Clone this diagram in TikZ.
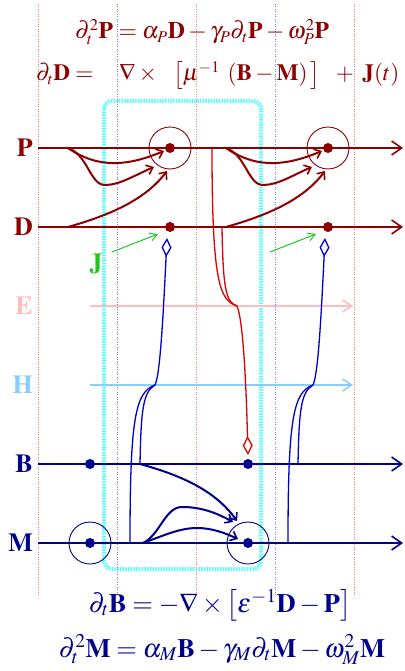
\documentclass[tikz,border=0pt]{standalone}
\usepackage{mathptmx}
\usetikzlibrary{arrows.meta}
\definecolor{dred}{RGB}{140,0,0}
\definecolor{dblue}{RGB}{0,0,140}
\definecolor{cred}{RGB}{220,0,0}
\definecolor{cblue}{RGB}{0,0,205}
\definecolor{pinkE}{RGB}{255,190,190}
\definecolor{skyH}{RGB}{135,206,250}
\definecolor{jgreen}{RGB}{30,200,30}
\definecolor{vred}{RGB}{255,120,120}
\definecolor{vblue}{RGB}{120,120,255}
\definecolor{cyanbox}{RGB}{80,255,255}
\newcommand{\timesbold}{\fontencoding{OT1}\fontfamily{ptm}\fontseries{b}\fontshape{n}\fontsize{26}{30}\selectfont}
\begin{document}
\begin{tikzpicture}[x=1pt,y=-1pt,
  axis/.style={line width=2pt,-{Straight Barb[length=10pt,width=14pt,line width=1.6pt]}},
  faint/.style={line width=2.8pt,-{Straight Barb[length=9pt,width=12pt,line width=1.5pt]}},
  vline/.style={line width=0.8pt,dash pattern=on 1pt off 1.5pt},
  curv/.style={line width=2pt,-{Straight Barb[length=6pt,width=10pt,line width=1.6pt]}},
  bcon/.style={cblue,line width=1.3pt},
  dtip/.style={-{Diamond[open,length=19pt,width=10pt,line width=1.3pt]}},
  garr/.style={jgreen,line width=1pt,-{Straight Barb[length=7pt,width=8pt,line width=1pt]}},
  ring/.style={line width=0.9pt},
  lbl/.style={anchor=east,inner sep=0pt,font=\timesbold},
  eqtop/.style={anchor=base west,inner sep=0pt,font=\fontsize{20.74}{25}\selectfont},
  eqbot/.style={anchor=base,inner sep=0pt,font=\fontsize{26.5}{30}\selectfont}]
\useasboundingbox (0,0) rectangle (404,671);
% background box and grid
\draw[cyanbox,line width=4pt,dash pattern=on 1.5pt off 1.2pt,rounded corners=8pt] (104,101) rectangle (261,569);
\foreach \x in {38,196,354} \draw[vred,vline] (\x,4) -- (\x,595);
\foreach \x in {117,275} \draw[vblue,vline] (\x,4) -- (\x,595);
% field lines
\coordinate (Ps) at (38,148); \coordinate (Pe) at (403,148);
\coordinate (Ds) at (38,227); \coordinate (De) at (403,227);
\coordinate (Es) at (90,306); \coordinate (Ee) at (353,306);
\coordinate (Hs) at (90,385); \coordinate (He) at (353,385);
\coordinate (Bs) at (38,464); \coordinate (Be) at (403,464);
\coordinate (Ms) at (38,543); \coordinate (Me) at (403,543);
\draw[faint,pinkE] (Es) -- (Ee);
\draw[faint,skyH] (Hs) -- (He);
% red connector
\coordinate (ra) at (212,148); \coordinate (rb) at (222,227);
\coordinate (re) at (237,306); \coordinate (rt) at (248,455);
\draw[cred,line width=1.3pt] (ra) .. controls (212,285) and (220,300) .. (re);
\draw[cred,line width=1.3pt] (rb) .. controls (223,290) and (226,302) .. (re);
\draw[cred,line width=1.3pt,dtip] (re) .. controls (243,320) and (246,380) .. (rt);
% periodic parts
\foreach \s/\k in {0/1,158/2} {
\begin{scope}[xshift=\s pt]
  \coordinate (pa\k) at (68,148); \coordinate (da\k) at (68,227);
  \coordinate (ta\k) at (164,151); \coordinate (tb\k) at (154,167); \coordinate (tc\k) at (167,171);
  \draw[curv,dred] (pa\k) .. controls (100,170) and (130,165) .. (ta\k);
  \draw[curv,dred] (pa\k) .. controls (88,155) and (90,185) .. (105,185) .. controls (120,185) and (135,175) .. (tb\k);
  \draw[curv,dred] (da\k) .. controls (110,215) and (145,200) .. (tc\k);
  \coordinate (hx\k) at (155,385); \coordinate (mb\k) at (130,543);
  \coordinate (bb\k) at (140,464); \coordinate (dt\k) at (167,238);
  \draw[bcon] (mb\k) .. controls (130,420) and (135,392) .. (hx\k);
  \draw[bcon] (bb\k) .. controls (141,410) and (143,392) .. (hx\k);
  \draw[bcon,dtip] (hx\k) .. controls (160,375) and (163,320) .. (dt\k);
  \coordinate (ga\k) at (112,252); \coordinate (gb\k) at (158,234);
  \draw[garr] (ga\k) -- (gb\k);
\end{scope}
}
% B -> M arrows
\coordinate (bm0) at (140,464); \coordinate (ms0) at (143,543);
\coordinate (t1) at (237,521); \coordinate (t2) at (233,522); \coordinate (t3) at (238,539);
\draw[curv,dblue] (bm0) .. controls (180,475) and (215,490) .. (t1);
\draw[curv,dblue] (ms0) .. controls (160,535) and (165,507) .. (182,507) .. controls (200,507) and (215,512) .. (t2);
\draw[curv,dblue] (ms0) .. controls (165,535) and (180,528) .. (197,528) .. controls (212,528) and (225,533) .. (t3);
% main axes on top
\draw[axis,dred] (Ps) -- (Pe);
\draw[axis,dred] (Ds) -- (De);
\draw[axis,dblue] (Bs) -- (Be);
\draw[axis,dblue] (Ms) -- (Me);
% dots and rings
\coordinate (P1) at (170,148); \coordinate (P2) at (328,148);
\coordinate (D1) at (170,227); \coordinate (D2) at (328,227);
\coordinate (B1) at (90,464);  \coordinate (B2) at (248,464);
\coordinate (M1) at (90,543);  \coordinate (M2) at (248,543);
\foreach \n in {P1,P2,D1,D2} \fill[dred] (\n) circle[radius=5pt];
\foreach \n in {B1,B2,M1,M2} \fill[dblue] (\n) circle[radius=5pt];
\foreach \n in {P1,P2} \draw[dred,ring] (\n) circle[radius=21pt];
\foreach \n in {M1,M2} \draw[dblue,ring] (\n) circle[radius=21pt];
% labels
\node[lbl,dred] (lP) at (33,148) {P};
\node[lbl,dred] (lD) at (33,227) {D};
\node[lbl,pinkE] (lE) at (33,306) {E};
\node[lbl,skyH] (lH) at (33,385) {H};
\node[lbl,dblue] (lB) at (33,464) {B};
\node[lbl,dblue] (lM) at (33,543) {M};
\node[inner sep=0pt,jgreen,font=\timesbold] (lJ) at (96,264) {J};
% equations
\node[eqtop,dred,scale=1.145] (eq1) at (75,39) {$\partial_t^2\mathbf{P}=\alpha_P\mathbf{D}-\gamma_P\partial_t\mathbf{P}-\omega_P^2\mathbf{P}$};
\node[eqtop,dred,scale=1.12] (eq2) at (36,81) {$\partial_t\mathbf{D}=\,\phantom{-}\nabla\times\;\;\,\big[\mu^{-1}\;\left(\mathbf{B}-\mathbf{M}\right)\big]\;\;\,+\;\mathbf{J}(t)$};
\node[eqbot,dblue] (eq3) at (220,612) {$\partial_t\mathbf{B}=-\nabla\times\big[\varepsilon^{-1}\mathbf{D}-\mathbf{P}\big]$};
\node[eqbot,dblue] (eq4) at (222,657) {$\partial_t^2\mathbf{M}=\alpha_M\mathbf{B}-\gamma_M\partial_t\mathbf{M}-\omega_M^2\mathbf{M}$};
\end{tikzpicture}
\end{document}
